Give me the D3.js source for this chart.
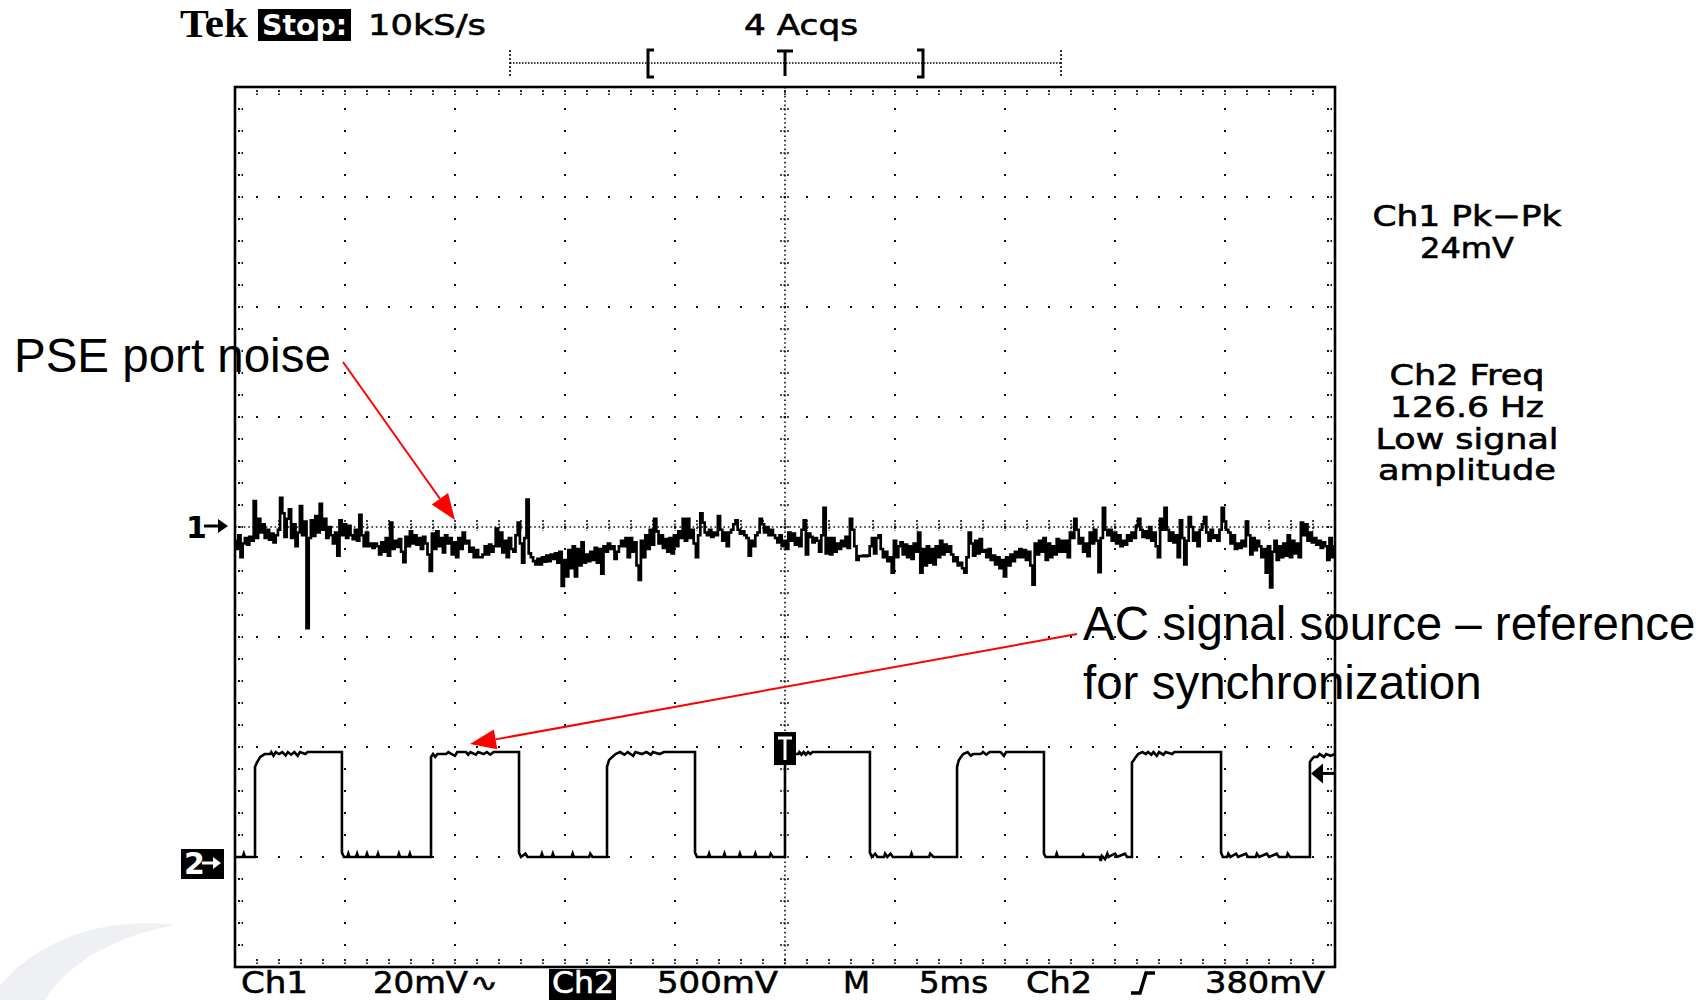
<!DOCTYPE html>
<html>
<head>
<meta charset="utf-8">
<script src="https://cdn.jsdelivr.net/npm/d3@7"></script>
<style>
  html, body { margin: 0; padding: 0; background: #ffffff; }
  svg { display: block; }
</style>
</head>
<body>
<svg id="chart" width="1706" height="1000"></svg>
<script>
// ---------------- DATA ----------------
// Ch1 (PSE port noise), mV, one sample every 0.1 ms (10 kS/s), 0..50 ms
const ch1SampleMs = 0.1;
const ch1mV = [
  -2.5,-4,-1.5,-5.5,-3,-2,-3.2,-1.8,-2.5,4.7,
  -2,1.5,-1,0.5,-2,-0.5,-2.3,-1.2,-2.8,-1.5,
  -0.5,5.3,2.5,-1.8,1.5,3.2,-2,0.5,-3.5,-1,
  3.8,-1.5,1,-18.4,-2,1.2,-1.6,2,-1,4.2,
  -0.5,1.5,-2,0,-1.5,-3,-1,-5.2,1.2,-1.5,
  0.5,-2,0.2,-1.5,-2.2,-0.5,-2.5,2.2,-1.5,-3.5,
  -1,-3.5,-3,-3.8,-3,-3.5,-5,-2.8,-4.5,-2,
  -5.2,0.8,-4,-2.5,-3.6,-2.2,-4.5,-6.4,-1.8,-3.5,
  -0.8,-3,-1.5,-3.2,-2,-4,-1.8,-3,-5,-8,
  -1.2,-4,-0.8,-3.5,-2,-4.6,-1.5,-3,-2,-5,
  -2.8,-5.5,-2,-4,-1,-3,-2.5,-4.5,-3.8,-5.5,
  -4.2,-5.5,-5.5,-5,-3.5,-5,-3.2,-4.5,-3.5,-0.3,
  -3.5,-1,-4.6,-2.5,-5.5,-2,-4,
  -4.5,-1.5,0.8,-3,-6.5,-2,5,-4.8,-5.5,-6.2,
  -6.8,-5.8,-6.8,-5.5,-6.3,-5.2,-6.2,-5,-5.8,-4.8,
  -6.5,-4.5,-10.7,-6,-9,-4.2,-7.5,-3.5,-9,-4,
  -7,-2.8,-6.5,-5,-6.2,-4.5,-6,-3.8,-6.5,-4,
  -8.5,-3.5,-4.5,-3,-4,-3.5,-5.8,-4.5,-3.5,-2.5,
  -3.5,-2,-5.5,-2,-4.5,-2.8,-7,-9.6,-2.5,-5.5,
  -1.5,-4,-0.5,-3.2,1.5,-0.8,-3,-1.5,-3.8,-2.2,
  -4.5,-2,-4.8,-1.5,-3.5,-0.8,-2,1.5,-2.5,1.5,
  -2,-0.5,-3,-5.5,-1.5,2.5,0.8,-1,-1.5,-0.5,
  -1.8,-1,-1.5,2,-0.5,-2.5,-1,-3.5,-1,-0.5,
  0.5,1.2,-0.5,-1.2,-0.8,-1.5,-2,-5.2,-2.5,-3.5,
  -1.5,-1,1.5,0.5,-1,0,-1.5,-0.5,-1.5,-2,
  -2.8,-1.5,-3.5,-2.5,-4,
  -1,-2.5,-1.2,-3.2,-2,-3.5,-0.5,1.2,-5,-1.2,
  -1.8,-2.8,-2,-2.5,-4.5,-1.5,3.5,-4.8,-2,-5,
  -2,-4.5,-3,-4,-2.5,-3.5,-1.8,-3.8,1.5,-0.5,
  -3.5,-6,-5.3,-5.3,-5.2,-5.3,-5.2,-3.5,-2,-4.8,
  -2,-1.5,-4,-5.5,-4.5,-6.2,-5.5,-8.3,-2.5,-5.5,
  -3.5,-2.8,-5,-3.2,-5.5,-3.5,-5.8,-3,-4.5,-1,
  -8.3,-4,-7,-3.5,-6.5,-4,-6.8,-3.5,-5.5,-2.5,
  -5,-3.2,-4.5,-3.5,-5,-6.2,-5.5,-7,-6.5,-7.5,
  -8.3,-5.5,-1,-3,-5.2,-2.5,-4.8,-2.2,-4.5,-4.2,
  -5.5,-4,-6,-5.2,-6.8,-5.5,-7.5,-6,-9,-5.5,
  -7,-5,-6.2,-4.5,-5.5,-4,-5.5,-4.2,-6,-4.5,
  -7,-10.5,-3,-5,-2.5,-4.5,-2,-6,-3,-5.5,
  -3.5,-5,-2.2,-4.5,-2.5,
  -4.5,-2.5,-5.5,-1,-2,1.5,-0.5,-3,-2,-4.5,
  -3,-5.3,-1,-3,-0.5,-2.5,-8.2,-2,3.5,-0.5,
  -1.5,-0.5,-2.5,-1,-3,-1.5,-3.5,-2.5,-3.2,-1.5,
  -2.5,-1,-2,0.2,1.5,-0.5,-1.8,-0.8,-2,0,
  -2.5,-1,-3.5,-5.5,1.5,-0.5,3.5,-0.5,-2.5,-1,
  -2.8,-1.5,-5.5,1.2,-2,-6.8,-2.5,1.8,0,-2.5,
  -1,-3.5,-0.5,0.5,1.8,-1,-2.5,-0.5,-2,-1.5,
  -2.5,-0.5,3.5,1,-0.5,-1,-3,-1.5,-4,-3,
  -3.8,-2.5,-3.5,1,-1.5,-5,-2,-4.2,-2.5,-3.5,
  -5.5,-4,-8.3,-3.5,-11,-4.5,-2.5,-6,-3.5,-5.5,
  -3,-5.2,-1.5,-5.5,-2.5,-4.8,-3,-5.5,0.8,-1.5,
  0.5,-2.5,-1,-2.8,-2,-3.2,-2.5,-3.8,-2.8,-3.5,
  -6,-2,-5.5,-3.5
];

// Ch2 (AC signal source), vertices of the trace: time (ms) and volts
const ch2T = [
  0,0.35,0.4,0.45,0.91,
  0.91,1.0,1.15,1.35,1.6,1.65,1.75,1.85,2.0,2.15,2.3,2.4,2.55,2.7,2.85,2.95,3.2,3.3,4.86,
  4.86,4.95,5.1,5.15,5.2,5.5,5.55,5.6,5.95,6.0,6.05,6.45,6.5,6.55,7.4,7.45,7.5,7.9,7.95,8.0,8.91,
  8.91,9.0,9.1,9.2,9.6,9.7,9.85,10.0,10.1,10.5,10.6,10.7,10.95,11.05,11.3,11.45,11.6,11.75,12.91,
  12.91,13.0,13.2,13.3,13.9,13.95,14.0,14.4,14.45,14.5,15.3,15.35,15.4,16.1,16.15,16.25,16.91,
  16.91,17.0,17.15,17.3,17.5,17.7,17.85,18.1,18.2,18.5,18.7,18.9,19.0,19.3,19.5,20.91,
  20.91,21.0,21.5,21.55,21.6,22.2,22.25,22.3,22.9,22.95,23.0,23.6,23.65,23.7,24.3,24.35,24.45,25.0,
  25.0,25.6,25.65,25.75,25.85,25.95,26.05,26.15,26.25,28.86,
  28.86,28.95,29.1,29.2,29.5,29.55,29.65,29.8,29.9,30.7,30.75,30.8,31.55,31.6,31.75,32.82,
  32.82,32.9,33.0,33.1,33.3,33.45,33.55,33.9,34.0,34.15,34.3,34.8,34.95,35.05,36.77,
  36.77,36.85,37.3,37.35,37.4,38.5,38.55,38.6,39.3,39.35,39.4,39.55,39.65,39.7,40.0,40.1,40.45,40.55,40.77,
  40.77,40.85,40.95,41.05,41.25,41.4,41.5,41.65,41.75,41.9,42.0,42.2,42.3,42.6,42.7,44.82,
  44.82,44.9,45.1,45.15,45.25,45.5,45.6,45.95,46.05,46.4,46.45,46.55,46.9,47.0,47.35,47.45,47.8,47.85,47.95,48.86,
  48.86,48.95,49.05,49.2,49.3,49.5,49.6,49.8,50.0
];
const ch2V = [
  0,0,0.015,0,0,
  0.41,0.43,0.455,0.468,0.468,0.477,0.46,0.477,0.468,0.477,0.462,0.477,0.465,0.477,0.46,0.477,0.468,0.477,0.477,
  0.02,0,0,0.015,0,0,0.015,0,0,0.015,0,0,0.015,0,0,0.015,0,0,0.015,0,0,
  0.455,0.468,0.455,0.468,0.468,0.477,0.468,0.46,0.477,0.477,0.465,0.477,0.465,0.477,0.468,0.477,0.465,0.477,0.477,
  0.02,0,0.015,0,0,0.015,0,0,0.015,0,0,0.015,0,0,0.015,0,0,
  0.41,0.44,0.455,0.468,0.477,0.465,0.477,0.46,0.477,0.468,0.477,0.465,0.477,0.468,0.477,0.477,
  0.02,0,0,0.015,0,0,0.015,0,0,0.015,0,0,0.015,0,0,0.015,0,0,
  0.468,0.468,0.477,0.465,0.477,0.465,0.477,0.468,0.477,0.477,
  0.02,0,0.015,0,0,0.015,0,0.015,0,0,0.015,0,0,0.015,0,0,
  0.41,0.44,0.455,0.468,0.477,0.46,0.468,0.468,0.477,0.465,0.477,0.477,0.46,0.477,0.477,
  0.015,0,0,0.015,0,0,0.01,0,0,-0.018,0.005,-0.01,0.015,0,0.015,0,0.015,0,0,
  0.43,0.44,0.455,0.468,0.477,0.468,0.477,0.465,0.477,0.46,0.477,0.465,0.477,0.468,0.477,0.477,
  0.02,0,0,0.015,0,0.015,0,0.015,0,0,0.015,0,0.015,0,0.015,0,0,0.015,0,0,
  0.432,0.445,0.455,0.455,0.468,0.455,0.468,0.46,0.468
];

// Scope settings / labels
const timePerDivMs = 5;
const ch1PerDivMv = 20;
const ch2PerDivV = 0.5;
const triggerLevelV = 0.38;
const triggerTimeMs = 25;
const headerLabels = ["Tek", "Stop:", "10kS/s", "4 Acqs"];
const measureLabels = ["Ch1 Pk\u2212Pk", "24mV", "Ch2 Freq", "126.6 Hz", "Low signal", "amplitude"];
const footerLabels = ["Ch1", "20mV", "Ch2", "500mV", "M", "5ms", "Ch2", "380mV"];
const annotationLabels = ["PSE port noise", "AC signal source \u2013 reference", "for synchronization"];

// ---------------- LAYOUT ----------------
const svg = d3.select("#chart");
const L = 235, R = 1335, T = 87, B = 967;
const scopeFont = "'DejaVu Sans', sans-serif";

svg.append("rect").attr("width", 1706).attr("height", 1000).attr("fill", "#fff");

// faint background swoosh (bottom-left logo remnant)
svg.append("path")
  .attr("d", "M-10,1000 C20,950 90,915 175,925 C120,935 70,960 45,1000 Z")
  .attr("fill", "#eef0f3");

const x = d3.scaleLinear().domain([0, 10 * timePerDivMs]).range([L, R]);
const y1 = d3.scaleLinear().domain([-4 * ch1PerDivMv, 4 * ch1PerDivMv]).range([B, T]);
const y2 = d3.scaleLinear().domain([-1 * ch2PerDivV, 7 * ch2PerDivV]).range([B, T]);

const majorX = x.ticks(10);                       // 0,5,...,50
const minorX = d3.range(0, 50.0001, 1);           // 1/5 division
const majorY = d3.range(-80, 80.0001, 20);
const minorY = d3.range(-80, 80.0001, 4);

const grid = svg.append("g");
// dotted division lines
majorX.filter(t => t > 0 && t < 50 && t !== triggerTimeMs).forEach(t => {
  minorY.filter(v => v > -80 && v < 80).forEach(v => {
    grid.append("rect").attr("x", x(t) - 1).attr("y", y1(v) - 1).attr("width", 2).attr("height", 2).attr("fill", "#111");
  });
});
majorY.filter(v => v > -80 && v < 80 && v !== 0).forEach(v => {
  minorX.filter(t => t > 0 && t < 50).forEach(t => {
    grid.append("rect").attr("x", x(t) - 1).attr("y", y1(v) - 1).attr("width", 2).attr("height", 2).attr("fill", "#111");
  });
});
// center axes: fine dotted lines with minor tick marks
grid.append("line").attr("x1", L).attr("x2", R).attr("y1", y1(0)).attr("y2", y1(0))
  .attr("stroke", "#111").attr("stroke-width", 1.6).attr("stroke-dasharray", "1.6,2.8");
grid.append("line").attr("x1", x(triggerTimeMs)).attr("x2", x(triggerTimeMs)).attr("y1", T).attr("y2", B)
  .attr("stroke", "#111").attr("stroke-width", 1.6).attr("stroke-dasharray", "1.6,2.8");
minorX.filter(t => t > 0 && t < 50).forEach(t => {
  grid.append("line").attr("x1", x(t)).attr("x2", x(t)).attr("y1", y1(0) - 7).attr("y2", y1(0) + 4)
    .attr("stroke", "#111").attr("stroke-width", 1.6).attr("stroke-dasharray", "2,1.5");
});
minorY.filter(v => v > -80 && v < 80).forEach(v => {
  grid.append("line").attr("x1", x(triggerTimeMs) - 5).attr("x2", x(triggerTimeMs) + 5).attr("y1", y1(v)).attr("y2", y1(v))
    .attr("stroke", "#111").attr("stroke-width", 1.6).attr("stroke-dasharray", "2,1.5");
});
// edge ticks
minorX.filter(t => t > 0 && t < 50).forEach(t => {
  grid.append("line").attr("x1", x(t)).attr("x2", x(t)).attr("y1", T + 3).attr("y2", T + 8)
    .attr("stroke", "#111").attr("stroke-width", 1.8).attr("stroke-dasharray", "2,1.5");
  grid.append("line").attr("x1", x(t)).attr("x2", x(t)).attr("y1", B - 8).attr("y2", B - 3)
    .attr("stroke", "#111").attr("stroke-width", 1.8).attr("stroke-dasharray", "2,1.5");
});
minorY.filter(v => v > -80 && v < 80).forEach(v => {
  grid.append("line").attr("x1", L + 3).attr("x2", L + 8).attr("y1", y1(v)).attr("y2", y1(v))
    .attr("stroke", "#111").attr("stroke-width", 1.8).attr("stroke-dasharray", "2,1.5");
  grid.append("line").attr("x1", R - 8).attr("x2", R - 3).attr("y1", y1(v)).attr("y2", y1(v))
    .attr("stroke", "#111").attr("stroke-width", 1.8).attr("stroke-dasharray", "2,1.5");
});
// frame
svg.append("rect").attr("x", L).attr("y", T).attr("width", R - L).attr("height", B - T)
  .attr("fill", "none").attr("stroke", "#000").attr("stroke-width", 2.6);

// ---------------- TRACES ----------------
const ch1Line = d3.line()
  .x((d, i) => x(i * ch1SampleMs))
  .y(d => y1(d))
  .curve(d3.curveStep);
svg.append("path").datum(ch1mV).attr("d", ch1Line)
  .attr("fill", "none").attr("stroke", "#000").attr("stroke-width", 2.7).attr("stroke-linejoin", "miter");

const ch2Data = ch2T.map((t, i) => [t, ch2V[i]]);
const ch2Line = d3.line().x(d => x(d[0])).y(d => y2(d[1]));
svg.append("path").datum(ch2Data).attr("d", ch2Line)
  .attr("fill", "none").attr("stroke", "#000").attr("stroke-width", 2.6).attr("stroke-linejoin", "miter");

// trigger marker on ch2 trace
const tx = x(triggerTimeMs), tyTop = y2(0.477) - 20;
svg.append("rect").attr("x", tx - 11).attr("y", tyTop).attr("width", 22).attr("height", 33).attr("fill", "#000");
svg.append("path").attr("d", `M${tx - 7},${tyTop + 6} H${tx + 7} M${tx},${tyTop + 6} V${tyTop + 28}`)
  .attr("stroke", "#fff").attr("stroke-width", 3).attr("fill", "none");

// trigger level arrow (right edge)
const ty = y2(triggerLevelV);
svg.append("path").attr("d", `M${R - 24},${ty} L${R - 12},${ty - 10} L${R - 12},${ty + 10} Z`).attr("fill", "#000");
svg.append("line").attr("x1", R - 13).attr("x2", R).attr("y1", ty).attr("y2", ty).attr("stroke", "#000").attr("stroke-width", 3);

// ground markers
svg.append("text").attr("x", 186).attr("y", y1(0) + 11).text("1")
  .attr("font-family", scopeFont).attr("font-weight", "bold").attr("font-size", 30).attr("fill", "#000");
svg.append("line").attr("x1", 204).attr("x2", 220).attr("y1", y1(0) - 1).attr("y2", y1(0) - 1).attr("stroke", "#000").attr("stroke-width", 3);
svg.append("path").attr("d", `M218,${y1(0) - 8} L228,${y1(0) - 1} L218,${y1(0) + 6} Z`).attr("fill", "#000");

const g2y = y2(0);
svg.append("rect").attr("x", 181).attr("y", g2y - 8).attr("width", 43).attr("height", 30).attr("fill", "#000");
svg.append("text").attr("x", 184).attr("y", g2y + 17).text("2")
  .attr("font-family", scopeFont).attr("font-weight", "bold").attr("font-size", 30).attr("fill", "#fff");
svg.append("line").attr("x1", 202).attr("x2", 215).attr("y1", g2y + 6).attr("y2", g2y + 6).attr("stroke", "#fff").attr("stroke-width", 3);
svg.append("path").attr("d", `M213,${g2y} L221,${g2y + 6} L213,${g2y + 12} Z`).attr("fill", "#fff");

// ---------------- TEXT ----------------
function scopeText(str, xPos, yPos, width, opts = {}) {
  const fill = opts.fill || "#000";
  const t = svg.append("text").attr("x", xPos).attr("y", yPos).text(str)
    .attr("font-family", opts.family || scopeFont)
    .attr("font-size", opts.size || 30)
    .attr("font-weight", opts.weight || "normal")
    .attr("fill", fill)
    .attr("stroke", opts.noStroke ? "none" : fill)
    .attr("stroke-width", 0.6)
    .attr("text-anchor", opts.anchor || "start");
  if (width) t.attr("textLength", width).attr("lengthAdjust", "spacingAndGlyphs");
  return t;
}

// header
scopeText(headerLabels[0], 180, 37, 68, { family: "'Liberation Serif', serif", weight: "bold", size: 40, noStroke: true });
svg.append("rect").attr("x", 258).attr("y", 9).attr("width", 93).attr("height", 32).attr("fill", "#000");
scopeText(headerLabels[1], 262, 35, 85, { fill: "#fff", weight: "bold", size: 29, noStroke: true });
scopeText(headerLabels[2], 368, 35, 118, { size: 29 });
scopeText(headerLabels[3], 744, 35, 114, { size: 29 });

// record position bar
const barY = 63;
svg.append("line").attr("x1", 510).attr("x2", 1061).attr("y1", barY).attr("y2", barY)
  .attr("stroke", "#000").attr("stroke-width", 1.4).attr("stroke-dasharray", "1.5,1.5");
[510, 1061].forEach(px => svg.append("line").attr("x1", px).attr("x2", px).attr("y1", 50).attr("y2", 77)
  .attr("stroke", "#000").attr("stroke-width", 1.6).attr("stroke-dasharray", "2,2"));
svg.append("path").attr("d", "M654,50 H648 V77 H654").attr("stroke", "#000").attr("stroke-width", 3).attr("fill", "none");
svg.append("path").attr("d", "M917,50 H923 V77 H917").attr("stroke", "#000").attr("stroke-width", 3).attr("fill", "none");
svg.append("path").attr("d", `M${tx - 8},51 H${tx + 8} M${tx},51 V76`).attr("stroke", "#000").attr("stroke-width", 3).attr("fill", "none");

// measurements
const measWidths = [189, 94, 155, 154, 183, 178];
const measBase = [226, 258, 385, 417, 449, 480];
measureLabels.forEach((s, i) => {
  scopeText(s, 1467 - measWidths[i] / 2, measBase[i], measWidths[i], { size: 29 });
});

// footer
const footY = 993;
scopeText(footerLabels[0], 241, footY, 67, { size: 31 });
scopeText(footerLabels[1], 373, footY, 95, { size: 31 });
scopeText("\u223F", 470, footY - 2, 28, { size: 24 });
svg.append("rect").attr("x", 549).attr("y", 969).attr("width", 67).attr("height", 31).attr("fill", "#000");
scopeText(footerLabels[2], 552, footY, 62, { size: 31, fill: "#fff" });
scopeText(footerLabels[3], 657, footY, 121, { size: 31 });
scopeText(footerLabels[4], 843, footY, 27, { size: 31 });
scopeText(footerLabels[5], 919, footY, 69, { size: 31 });
scopeText(footerLabels[6], 1026, footY, 66, { size: 31 });
svg.append("path").attr("d", "M1131,993 H1140 L1146,973 H1155").attr("stroke", "#000").attr("stroke-width", 3.5).attr("fill", "none");
scopeText(footerLabels[7], 1205, footY, 120, { size: 31 });

// ---------------- ANNOTATIONS ----------------
const annFont = "'Liberation Sans', Arial, sans-serif";
svg.append("text").attr("x", 14).attr("y", 372).text(annotationLabels[0])
  .attr("font-family", annFont).attr("font-size", 47.5).attr("fill", "#000");
svg.append("text").attr("x", 1083).attr("y", 640).text(annotationLabels[1])
  .attr("font-family", annFont).attr("font-size", 47.5).attr("fill", "#000");
svg.append("text").attr("x", 1083).attr("y", 699).text(annotationLabels[2])
  .attr("font-family", annFont).attr("font-size", 47.5).attr("fill", "#000");

function redArrow(x1, yA, x2, yB) {
  const dx = x2 - x1, dy = yB - yA, len = Math.hypot(dx, dy);
  const ux = dx / len, uy = dy / len;
  const hl = 26, hw = 10;
  const bx = x2 - ux * hl, by = yB - uy * hl;
  svg.append("line").attr("x1", x1).attr("y1", yA).attr("x2", bx).attr("y2", by)
    .attr("stroke", "#ff0000").attr("stroke-width", 2);
  svg.append("path")
    .attr("d", `M${x2},${yB} L${bx - uy * hw},${by + ux * hw} L${bx + uy * hw},${by - ux * hw} Z`)
    .attr("fill", "#ff0000");
}
redArrow(343, 362, 455, 520);
redArrow(1077, 634, 470, 744);
</script>
</body>
</html>
